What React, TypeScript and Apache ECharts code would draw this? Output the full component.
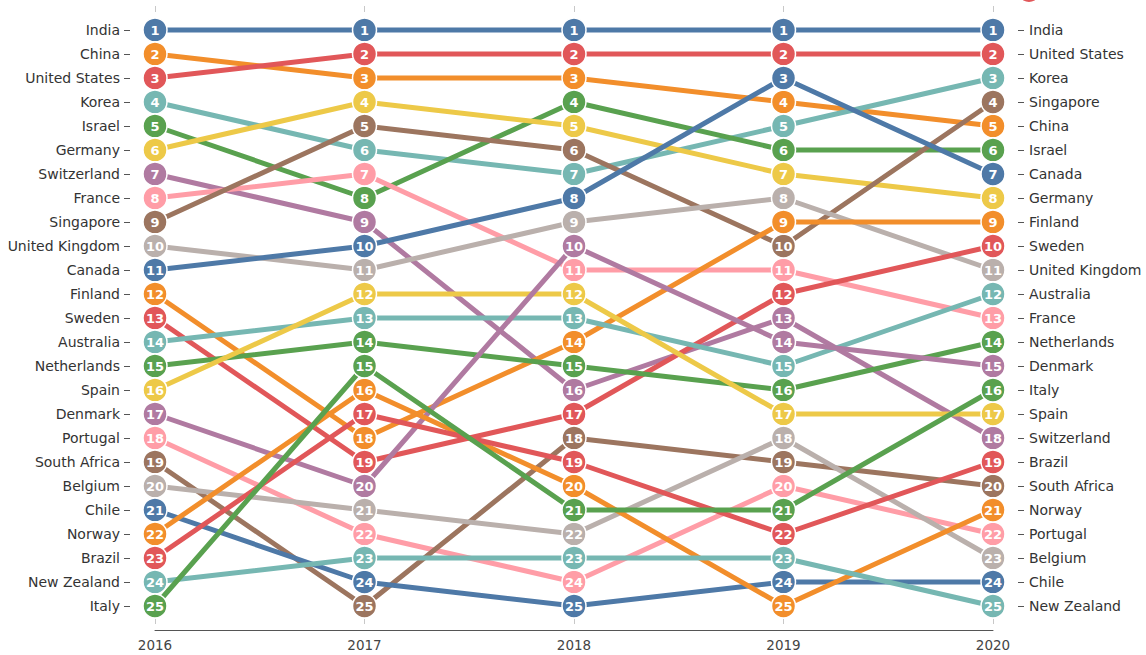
import React, { useEffect, useRef } from "react";
import * as echarts from "echarts";

const years = ["2016", "2017", "2018", "2019", "2020"];

const order2016 = ["India", "China", "United States", "Korea", "Israel", "Germany", "Switzerland", "France", "Singapore", "United Kingdom", "Canada", "Finland", "Sweden", "Australia", "Netherlands", "Spain", "Denmark", "Portugal", "South Africa", "Belgium", "Chile", "Norway", "Brazil", "New Zealand", "Italy"];
const order2017 = ["India", "United States", "China", "Germany", "Singapore", "Korea", "France", "Israel", "Switzerland", "Canada", "United Kingdom", "Spain", "Australia", "Netherlands", "Italy", "Norway", "Brazil", "Finland", "Sweden", "Denmark", "Belgium", "Portugal", "New Zealand", "Chile", "South Africa"];
const order2018 = ["India", "United States", "China", "Israel", "Germany", "Singapore", "Korea", "Canada", "United Kingdom", "Denmark", "France", "Spain", "Australia", "Finland", "Netherlands", "Switzerland", "Sweden", "South Africa", "Brazil", "Norway", "Italy", "Belgium", "New Zealand", "Portugal", "Chile"];
const order2019 = ["India", "United States", "Canada", "China", "Korea", "Israel", "Germany", "United Kingdom", "Finland", "Singapore", "France", "Sweden", "Switzerland", "Denmark", "Australia", "Netherlands", "Spain", "Belgium", "South Africa", "Portugal", "Italy", "Brazil", "New Zealand", "Chile", "Norway"];
const order2020 = ["India", "United States", "Korea", "Singapore", "China", "Israel", "Canada", "Germany", "Finland", "Sweden", "United Kingdom", "Australia", "France", "Netherlands", "Denmark", "Italy", "Spain", "Switzerland", "Brazil", "South Africa", "Norway", "Portugal", "Belgium", "Chile", "New Zealand"];

const palette = ["#4e79a7", "#f28e2b", "#e15759", "#76b7b2", "#59a14f", "#edc948", "#b07aa1", "#ff9da7", "#9c755f", "#bab0ac"];

const orders = [order2016, order2017, order2018, order2019, order2020];

export default function App() {
  const ref = useRef<HTMLDivElement>(null);
  useEffect(() => {
    if (!ref.current) return;
    const chart = echarts.init(ref.current, undefined, { renderer: "svg" });
    const font = "DejaVu Sans";
    const leftData = ["", ...order2016, ""];
    const rightData = ["", ...order2020, ""];
    const showInner = (i: number) => i > 0 && i < 26;

    const lineSeries: any[] = [];
    const dotSeries: any[] = [];
    order2016.forEach((name, ci) => {
      const color = palette[ci % palette.length];
      const pts = orders.map((ord, yi) => [yi, ord.indexOf(name) + 1]);
      lineSeries.push({
        type: "line",
        name,
        data: pts,
        showSymbol: false,
        symbol: "none",
        z: 2,
        lineStyle: { color, width: 5 },
        emphasis: { disabled: true },
      });
      dotSeries.push({
        type: "scatter",
        name: name + "-dots",
        data: pts,
        symbol: "circle",
        symbolSize: 24,
        z: 3,
        itemStyle: { color, borderColor: "#fff", borderWidth: 1.5, opacity: 1 },
        label: {
          show: true,
          position: "inside",
          formatter: (p: any) => String(p.value[1]),
          color: "#fff",
          fontSize: 13,
          fontWeight: "bold",
          fontFamily: font,
        },
        emphasis: { disabled: true },
      });
    });

    chart.setOption({
      animation: false,
      backgroundColor: "#fff",
      grid: { left: 155, right: 153, top: 6, bottom: 25 },
      xAxis: {
        type: "category",
        data: years,
        boundaryGap: false,
        axisLine: { lineStyle: { color: "#555", width: 1 } },
        axisTick: { length: 5, lineStyle: { color: "#555" } },
        axisLabel: { color: "#444", fontSize: 13.5, fontFamily: font, margin: 8 },
        splitLine: { show: true, lineStyle: { color: "#c8c8c8", width: 1, type: [6, 6] } },
      },
      yAxis: [
        {
          type: "category",
          data: leftData,
          inverse: true,
          boundaryGap: false,
          position: "left",
          offset: 25,
          axisLine: { show: false },
          axisTick: { show: true, length: 6, interval: (i: number) => showInner(i), lineStyle: { color: "#555" } },
          axisLabel: { color: "#333", fontSize: 14, fontFamily: font, margin: 10, interval: (i: number) => showInner(i) },
          splitLine: { show: false },
        },
        {
          type: "category",
          data: rightData,
          inverse: true,
          boundaryGap: false,
          position: "right",
          offset: 25,
          axisLine: { show: false },
          axisTick: { show: true, length: 6, interval: (i: number) => showInner(i), lineStyle: { color: "#555" } },
          axisLabel: { color: "#333", fontSize: 14, fontFamily: font, margin: 11, interval: (i: number) => showInner(i) },
          splitLine: { show: false },
        },
      ],
      graphic: [
        { type: "circle", shape: { cx: 1029, cy: -9, r: 11 }, style: { fill: "#e15759" }, z: 10 },
      ],
      series: [...lineSeries, ...dotSeries],
    });
    return () => chart.dispose();
  }, []);
  return <div ref={ref} style={{ position: "fixed", left: 0, top: 0, width: 1146, height: 655 }} />;
}
